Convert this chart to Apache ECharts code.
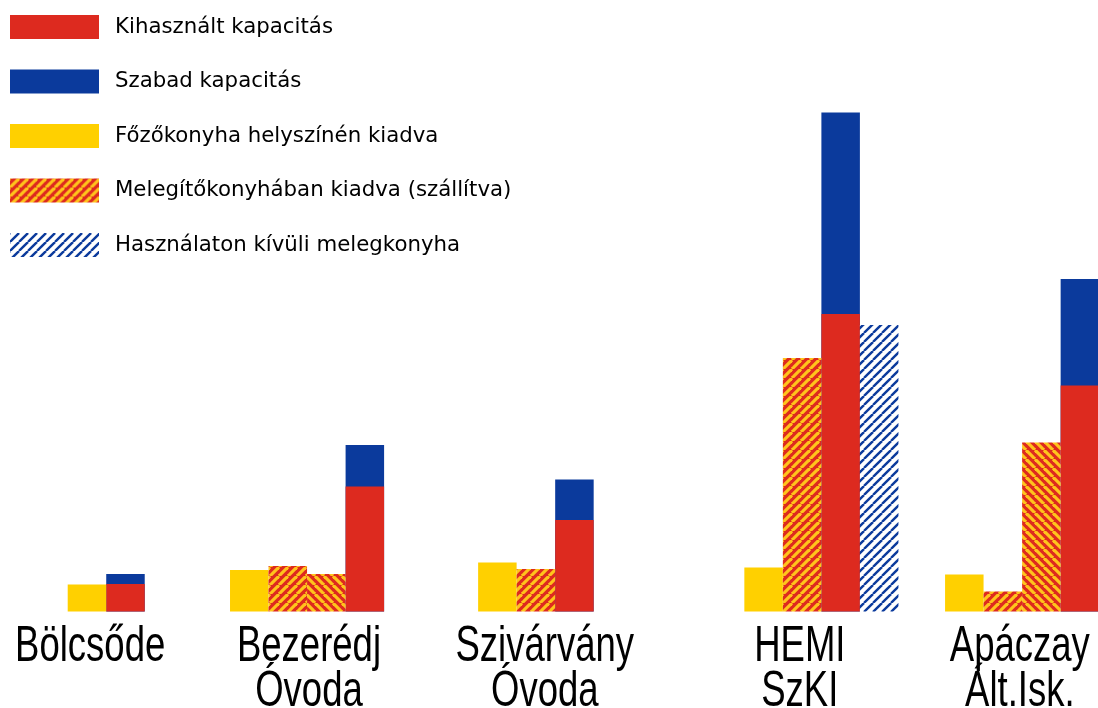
<!DOCTYPE html>
<html>
<head>
<meta charset="utf-8">
<script src="https://cdn.jsdelivr.net/npm/echarts@6/dist/echarts.min.js"></script>
<style>
  html, body { margin: 0; padding: 0; background: #fff; }
  #chart { width: 1098px; height: 708px; }
</style>
</head>
<body>
<div id="chart"></div>
<script>
// data (arbitrary units, one group per site)
const categories = ['Bölcsőde', 'Bezerédj\nÓvoda', 'Szivárvány\nÓvoda', 'HEMI\nSzKI', 'Apáczay\nÁlt.Isk.'];
const onsite = [27, 41.5, 49, 44, 37];                          // Főzőkonyha helyszínén kiadva
const shipped = [[], [45.5, 37.5], [42.5], [253.5], [20, 169]]; // Melegítőkonyhában kiadva
const used = [27.5, 125, 91.5, 297.5, 226];                     // Kihasznált kapacitás
const free = [10, 41.5, 40.5, 201.5, 106.5];                    // Szabad kapacitás
const unused = [null, null, null, 286.5, null];                 // Használaton kívüli melegkonyha

const names = [
  'Kihasznált kapacitás',
  'Szabad kapacitás',
  'Főzőkonyha helyszínén kiadva',
  'Melegítőkonyhában kiadva (szállítva)',
  'Használaton kívüli melegkonyha'
];

// layout: where each group starts / its label sits, in bar-width units
const groupStart = [1.757, 5.97, 12.41, 19.32, 24.53];
const labelX = [2.34, 8.02, 14.14, 20.76, 26.47];
const shippedHatch = [[], ['/', '\\'], ['/'], ['/'], ['/', '\\']];

const RED = '#dd2a1f';
const BLUE = '#0b3a9c';
const YELLOW = '#ffd000';
const STRIPE = '#ffc41c';

function hatch(bg, fg, size, width, dir) {
  const c = document.createElement('canvas');
  c.width = size;
  c.height = size;
  const ctx = c.getContext('2d');
  ctx.fillStyle = bg;
  ctx.fillRect(0, 0, size, size);
  ctx.strokeStyle = fg;
  ctx.lineWidth = width;
  for (let k = -1; k <= 1; k++) {
    ctx.beginPath();
    if (dir === '/') {
      ctx.moveTo(k * size, size);
      ctx.lineTo(k * size + size, 0);
    } else {
      ctx.moveTo(k * size, 0);
      ctx.lineTo(k * size + size, size);
    }
    ctx.stroke();
  }
  return { image: c, repeat: 'repeat' };
}

const orangeUp = hatch(RED, STRIPE, 9, 3.2, '/');
const orangeDown = hatch(RED, STRIPE, 9, 3.2, '\\');
const blueHatch = hatch('#ffffff', BLUE, 9, 2.4, '/');

// walk the groups bar by bar, left to right
const usedData = [], totalData = [], onsiteData = [], shippedData = [], unusedData = [];
categories.forEach((c, g) => {
  let pos = groupStart[g] + 0.5;
  onsiteData.push([pos, onsite[g]]);
  pos += 1;
  shipped[g].forEach((v, k) => {
    shippedData.push({
      value: [pos, v],
      itemStyle: { color: shippedHatch[g][k] === '/' ? orangeUp : orangeDown }
    });
    pos += 1;
  });
  usedData.push([pos, used[g]]);
  totalData.push([pos, used[g] + free[g]]); // blue drawn behind red, shows the free part on top
  pos += 1;
  if (unused[g] != null) {
    unusedData.push([pos, unused[g]]);
  }
});

const chart = echarts.init(document.getElementById('chart'));

const bar = (name, data, color) => ({
  name: name,
  type: 'bar',
  barWidth: 38.5,
  barGap: '-100%',
  data: data,
  itemStyle: { color: color },
  emphasis: { disabled: true }
});

chart.setOption({
  animation: false,
  backgroundColor: '#ffffff',
  legend: {
    orient: 'vertical',
    left: 10,
    top: 15,
    padding: 0,
    itemWidth: 89,
    itemHeight: 24,
    itemGap: 30.5,
    icon: 'rect',
    selectedMode: false,
    data: names,
    textStyle: {
      fontFamily: 'DejaVu Sans',
      fontSize: 21.3,
      color: '#000000',
      lineHeight: 24,
      padding: [0, 0, 0, 11]
    }
  },
  grid: { left: 0, right: 0, top: 111.5, bottom: 96.5 },
  xAxis: { type: 'value', min: 0, max: 28.5, show: false },
  yAxis: { type: 'value', min: 0, max: 500, show: false },
  series: [
    bar(names[1], totalData, BLUE),
    bar(names[0], usedData, RED),
    bar(names[2], onsiteData, YELLOW),
    bar(names[3], shippedData, orangeUp),
    bar(names[4], unusedData, blueHatch),
    {
      // category names under each group, narrowed like the original lettering
      type: 'custom',
      silent: true,
      data: labelX.map(x => [x, 0]),
      renderItem: (params, api) => {
        const p = api.coord([api.value(0), api.value(1)]);
        return {
          type: 'text',
          x: p[0],
          y: p[1] + 13,
          scaleX: 0.73,
          style: {
            text: categories[params.dataIndex],
            fontFamily: '"Liberation Sans", Arial, sans-serif',
            fontSize: 50,
            lineHeight: 45,
            fill: '#000000',
            align: 'center',
            verticalAlign: 'top'
          }
        };
      }
    }
  ]
});
</script>
</body>
</html>
